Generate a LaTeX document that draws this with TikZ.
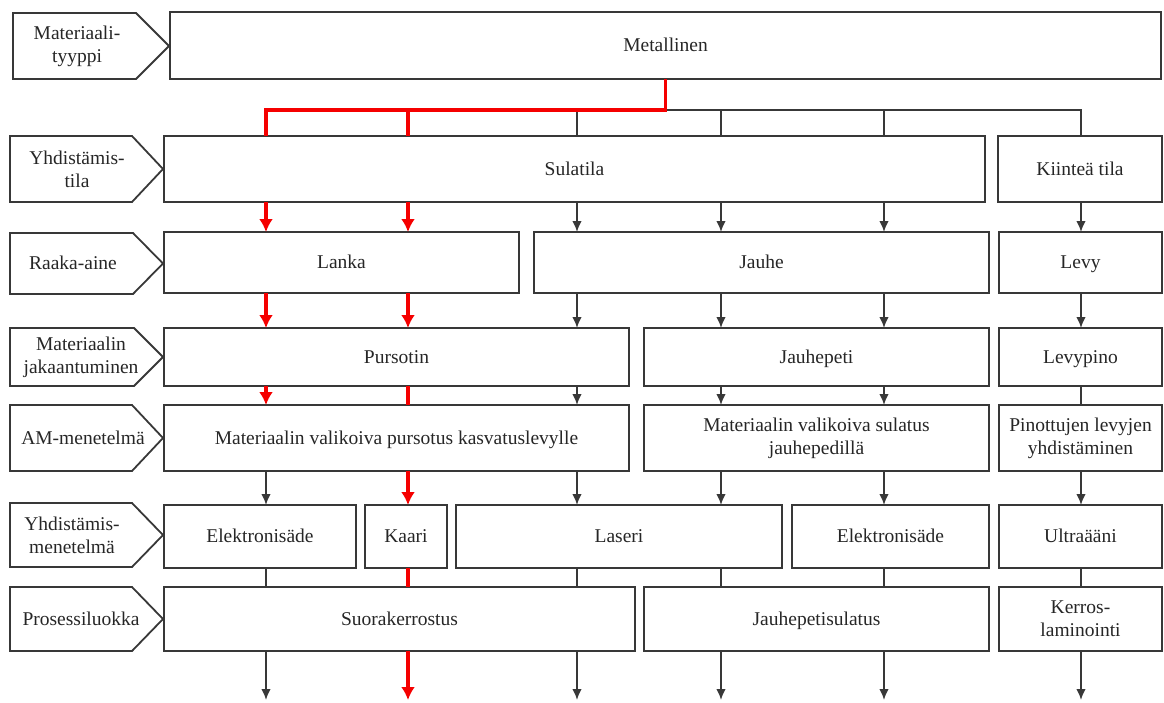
\documentclass[tikz,border=0pt]{standalone}
\usepackage{fontspec}
\setmainfont{Liberation Serif}
\usetikzlibrary{arrows.meta}
\definecolor{edge}{HTML}{383838}
\definecolor{ink}{HTML}{262626}
\definecolor{hotred}{HTML}{F50000}
\begin{document}
\begin{tikzpicture}[x=1pt, y=-1pt,
    box2/.style={draw=edge, line width=1.8pt, rectangle, inner sep=2pt, outer sep=0pt,
        align=center, text=ink, font=\fontsize{19.5}{23}\selectfont},
    box/.style={box2, text height=16.9pt, text depth=4pt},
    lbl2/.style={align=center, text=ink, font=\fontsize{19.5}{23}\selectfont},
    lbl/.style={lbl2, text height=16.9pt, text depth=4pt},
    tag/.style={draw=edge, line width=1.8pt},
    line/.style={draw=edge, line width=1.8pt, >={Latex[length=11pt, width=9.5pt]}},
    hot/.style={draw=hotred, line width=3.3pt, >={Latex[length=13pt, width=14pt]}}]
    \useasboundingbox (0,0) rectangle (1164,702);

    % row labels
    \draw[tag] (13,13) -- (136,13) -- (169,46) -- (136,79) -- (13,79) -- cycle;
    \node[lbl2] (t1) at (77,46) {Materiaali-\\tyyppi};
    \draw[tag] (10,136) -- (132,136) -- (163,169) -- (132,202) -- (10,202) -- cycle;
    \node[lbl2] (t2) at (77,169) {Yhdistämis-\\tila};
    \draw[tag] (10,233) -- (133,233) -- (163,263.5) -- (133,294) -- (10,294) -- cycle;
    \node[lbl] (t3) at (73,263.5) {Raaka-aine};
    \draw[tag] (10,328) -- (134,328) -- (163,357) -- (134,386) -- (10,386) -- cycle;
    \node[lbl2] (t4) at (81,357) {Materiaalin\\jakaantuminen};
    \draw[tag] (10,405) -- (132,405) -- (163,438) -- (132,471) -- (10,471) -- cycle;
    \node[lbl] (t5) at (83,438) {AM-menetelmä};
    \draw[tag] (10,503) -- (132,503) -- (163,535) -- (132,567) -- (10,567) -- cycle;
    \node[lbl2] (t6) at (72,535) {Yhdistämis-\\menetelmä};
    \draw[tag] (10,587) -- (132,587) -- (163,619) -- (132,651) -- (10,651) -- cycle;
    \node[lbl] (t7) at (81,619) {Prosessiluokka};

    % boxes
    \node[box, minimum width=991pt, minimum height=67pt] (metal) at (665.5,45.5) {Metallinen};
    \node[box, minimum width=821pt, minimum height=66pt] (sula) at (574.5,169) {Sulatila};
    \node[box, minimum width=164pt, minimum height=66pt] (kiint) at (1080,169) {Kiinteä tila};
    \node[box, minimum width=355pt, minimum height=61pt] (lanka) at (341.5,262.5) {Lanka};
    \node[box, minimum width=455pt, minimum height=61pt] (jauhe) at (761.5,262.5) {Jauhe};
    \node[box, minimum width=163pt, minimum height=61pt] (levy) at (1080.5,262.5) {Levy};
    \node[box, minimum width=465pt, minimum height=58pt] (purs) at (396.5,357) {Pursotin};
    \node[box, minimum width=345pt, minimum height=58pt] (jpeti) at (816.5,357) {Jauhepeti};
    \node[box, minimum width=163pt, minimum height=58pt] (lpino) at (1080.5,357) {Levypino};
    \node[box, minimum width=465pt, minimum height=66pt] (amA) at (396.5,438)
        {Materiaalin valikoiva pursotus kasvatuslevylle};
    \node[box2, minimum width=345pt, minimum height=66pt] (amB) at (816.5,438)
        {Materiaalin valikoiva sulatus\\jauhepedillä};
    \node[box2, minimum width=163pt, minimum height=66pt] (amC) at (1080.5,438)
        {Pinottujen levyjen\\yhdistäminen};
    \node[box, minimum width=192pt, minimum height=63pt] (elA) at (260,536.5) {Elektronisäde};
    \node[box, minimum width=82pt, minimum height=63pt] (kaari) at (406,536.5) {Kaari};
    \node[box, minimum width=326pt, minimum height=63pt] (laser) at (619,536.5) {Laseri};
    \node[box, minimum width=197pt, minimum height=63pt] (elB) at (890.5,536.5) {Elektronisäde};
    \node[box, minimum width=163pt, minimum height=63pt] (ultra) at (1080.5,536.5) {Ultraääni};
    \node[box, minimum width=471pt, minimum height=64pt] (suora) at (399.5,619) {Suorakerrostus};
    \node[box, minimum width=345pt, minimum height=64pt] (jpsul) at (816.5,619) {Jauhepetisulatus};
    \node[box2, minimum width=163pt, minimum height=64pt] (kerros) at (1080.5,619) {Kerros-\\laminointi};

    % columns and levels
    \coordinate (c1) at (266,0);
    \coordinate (c2) at (408,0);
    \coordinate (c3) at (577,0);
    \coordinate (c4) at (721,0);
    \coordinate (c5) at (884,0);
    \coordinate (c6) at (1081,0);
    \coordinate (bus) at (0,110);
    \coordinate (out) at (0,700);

    % black connectors
    \draw[line] (metal.south |- bus) -| (kiint.north -| c6);
    \draw[line] (bus -| c3) -- (sula.north -| c3);
    \draw[line] (bus -| c4) -- (sula.north -| c4);
    \draw[line] (bus -| c5) -- (sula.north -| c5);

    \draw[line, ->] (sula.south -| c3) -- (jauhe.north -| c3);
    \draw[line, ->] (sula.south -| c4) -- (jauhe.north -| c4);
    \draw[line, ->] (sula.south -| c5) -- (jauhe.north -| c5);
    \draw[line, ->] (kiint.south -| c6) -- (levy.north -| c6);

    \draw[line, ->] (jauhe.south -| c3) -- (purs.north -| c3);
    \draw[line, ->] (jauhe.south -| c4) -- (jpeti.north -| c4);
    \draw[line, ->] (jauhe.south -| c5) -- (jpeti.north -| c5);
    \draw[line, ->] (levy.south -| c6) -- (lpino.north -| c6);

    \draw[line, ->] (purs.south -| c3) -- (amA.north -| c3);
    \draw[line, ->] (jpeti.south -| c4) -- (amB.north -| c4);
    \draw[line, ->] (jpeti.south -| c5) -- (amB.north -| c5);
    \draw[line] (lpino.south -| c6) -- (amC.north -| c6);

    \draw[line, ->] (amA.south -| c1) -- (elA.north -| c1);
    \draw[line, ->] (amA.south -| c3) -- (laser.north -| c3);
    \draw[line, ->] (amB.south -| c4) -- (laser.north -| c4);
    \draw[line, ->] (amB.south -| c5) -- (elB.north -| c5);
    \draw[line, ->] (amC.south -| c6) -- (ultra.north -| c6);

    \draw[line] (elA.south -| c1) -- (suora.north -| c1);
    \draw[line] (laser.south -| c3) -- (suora.north -| c3);
    \draw[line] (laser.south -| c4) -- (jpsul.north -| c4);
    \draw[line] (elB.south -| c5) -- (jpsul.north -| c5);
    \draw[line] (ultra.south -| c6) -- (kerros.north -| c6);

    \draw[line, ->] (suora.south -| c1) -- (out -| c1);
    \draw[line, ->] (suora.south -| c3) -- (out -| c3);
    \draw[line, ->] (jpsul.south -| c4) -- (out -| c4);
    \draw[line, ->] (jpsul.south -| c5) -- (out -| c5);
    \draw[line, ->] (kerros.south -| c6) -- (out -| c6);

    % red path
    \draw[hot] (metal.south) |- (bus -| c1) -- (sula.north -| c1);
    \draw[hot] (bus -| c2) -- (sula.north -| c2);
    \draw[hot, ->] (sula.south -| c1) -- (lanka.north -| c1);
    \draw[hot, ->] (sula.south -| c2) -- (lanka.north -| c2);
    \draw[hot, ->] (lanka.south -| c1) -- (purs.north -| c1);
    \draw[hot, ->] (lanka.south -| c2) -- (purs.north -| c2);
    \draw[hot, ->] (purs.south -| c1) -- (amA.north -| c1);
    \draw[hot] (purs.south -| c2) -- (amA.north -| c2);
    \draw[hot, ->] (amA.south -| c2) -- (kaari.north -| c2);
    \draw[hot] (kaari.south -| c2) -- (suora.north -| c2);
    \draw[hot, ->] (suora.south -| c2) -- (out -| c2);
\end{tikzpicture}
\end{document}
